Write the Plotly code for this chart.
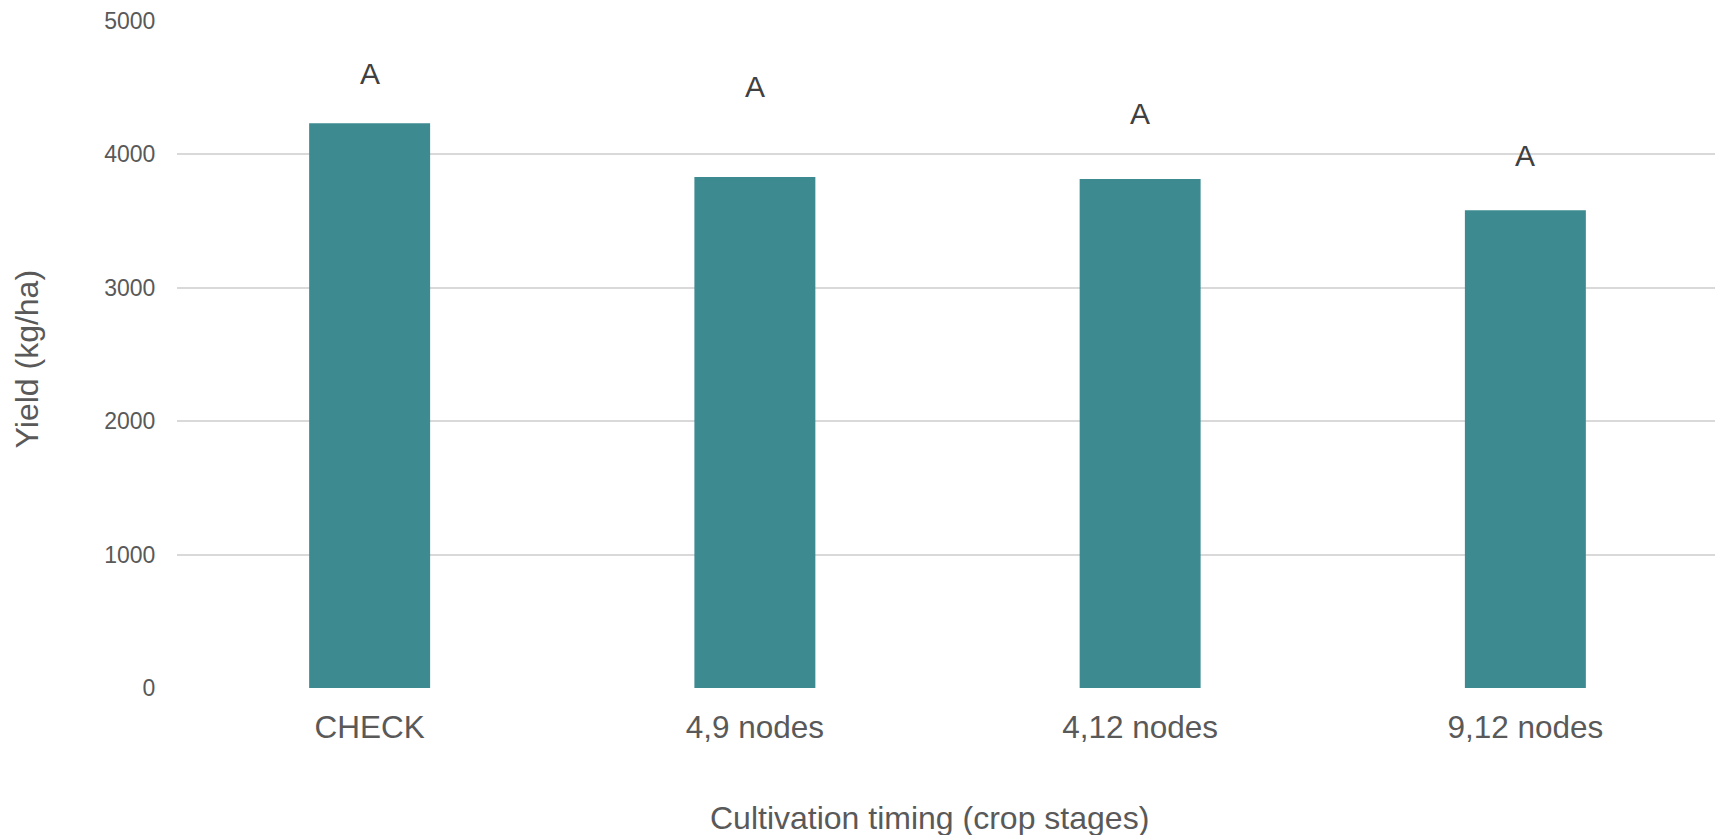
import plotly.graph_objects as go

categories = ["CHECK", "4,9 nodes", "4,12 nodes", "9,12 nodes"]
yield_kg_ha = [4233, 3830, 3815, 3581]
sig_letters = ["A", "A", "A", "A"]
letter_heights = [4603, 4508, 4308, 3995]
y_ticks = [0, 1000, 2000, 3000, 4000, 5000]

FONT = "Liberation Sans, Arial, sans-serif"

fig = go.Figure()
fig.add_trace(go.Bar(
    x=categories, y=yield_kg_ha,
    marker=dict(color="#3D8B91", line=dict(width=0)),
    hoverinfo="x+y",
))

for c, h, t in zip(categories, letter_heights, sig_letters):
    fig.add_annotation(x=c, y=h, text=t, showarrow=False, xref="x", yref="y",
                       font=dict(family=FONT, size=30, color="#404040"),
                       yanchor="middle")

fig.add_annotation(text="Cultivation timing (crop stages)", xref="paper", yref="paper",
                   x=0.4886, y=-0.195, showarrow=False, yanchor="middle",
                   font=dict(family=FONT, size=32, color="#595959"))
fig.add_annotation(text="Yield (kg/ha)", xref="paper", yref="paper",
                   x=-0.0972, y=0.493, showarrow=False, textangle=-90, xanchor="center",
                   font=dict(family=FONT, size=32, color="#595959"))

# page body has an 8px default margin; margins compensate for it
fig.update_layout(
    width=1723, height=835,
    margin=dict(l=169, r=13, t=13, b=155),
    paper_bgcolor="white", plot_bgcolor="white",
    bargap=0.686,
    showlegend=False,
    font=dict(family=FONT, color="#595959"),
)
fig.update_xaxes(
    automargin=False,
    showgrid=False, showline=False, zeroline=False,
    ticks="outside", ticklen=0, ticklabelstandoff=11,
    tickfont=dict(family=FONT, size=31.5, color="#595959"),
)
fig.update_yaxes(
    automargin=False,
    range=[0, 5000], tickvals=y_ticks, ticktext=[str(v) for v in y_ticks],
    showgrid=True, gridcolor="#D9D9D9", gridwidth=1.5,
    zeroline=False, showline=False,
    ticks="outside", ticklen=0, ticklabelstandoff=16,
    tickfont=dict(family=FONT, size=23, color="#595959"),
)

fig.write_html("out.html")
